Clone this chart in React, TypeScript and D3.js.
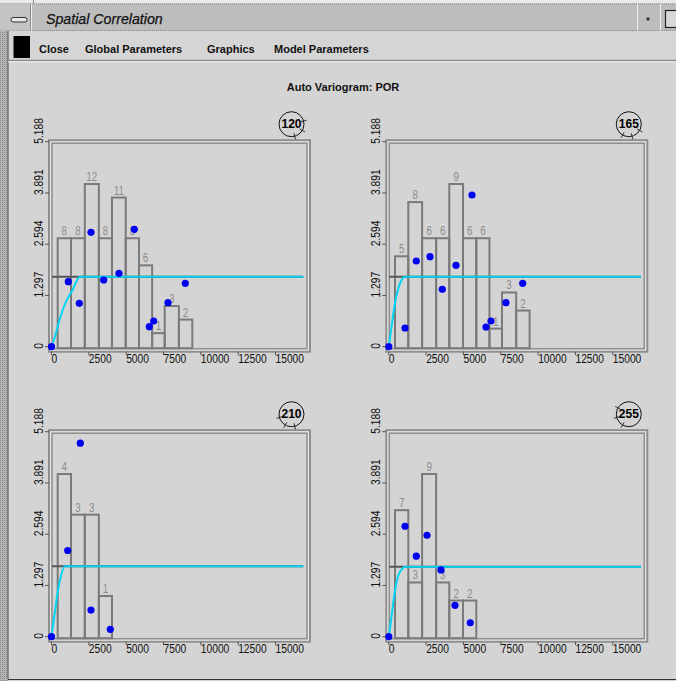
import * as d3 from "d3";
import { useRef, useEffect } from "react";

// lag class boundaries (same for every direction)
const binEdges = [415, 1306, 2230, 3170, 4050, 4970, 5860, 6740, 7580, 8530, 9430];

// pair counts per lag class
const counts120 = [8, 8, 12, 8, 11, 8, 6, 1, 3, 2];
const counts165 = [5, 8, 6, 6, 9, 6, 6, 1, 3, 2];
const counts210 = [4, 3, 3, 1];
const counts255 = [7, 3, 9, 3, 2, 2];

// experimental semivariogram points
const lag120 = [0, 1125, 1862, 2645, 3495, 4520, 5544, 6549, 6843, 7801, 8959];
const gamma120 = [0, 1.645, 1.098, 2.895, 1.688, 1.857, 2.971, 0.506, 0.65, 1.114, 1.604];
const lag165 = [0, 1085, 1841, 2759, 3582, 4500, 5571, 6509, 6843, 7848, 8966];
const gamma165 = [0, 0.473, 2.169, 2.278, 1.453, 2.06, 3.839, 0.499, 0.65, 1.114, 1.604];
const lag210 = [0, 1085, 1928, 2645, 3937];
const gamma210 = [0, 2.181, 4.898, 0.674, 0.187];
const lag255 = [0, 1085, 1841, 2558, 3495, 4433, 5457];
const gamma255 = [0, 2.795, 2.037, 2.567, 1.691, 0.793, 0.353];

// fitted model
const modelLag120 = [0, 230, 570, 1020, 1350, 1910, 16860];
const modelGamma120 = [0, 0.25, 0.72, 1.18, 1.39, 1.77, 1.77];
const modelLag165 = [0, 200, 415, 750, 1085, 16890];
const modelGamma165 = [0, 0.55, 1.1, 1.6, 1.77, 1.77];
const modelLag210 = [0, 200, 455, 680, 900, 16860];
const modelGamma210 = [0, 0.55, 1.22, 1.6, 1.78, 1.78];
const modelLag255 = [0, 180, 370, 640, 1130, 16890];
const modelGamma255 = [0, 0.5, 1.05, 1.56, 1.77, 1.77];

const yTicks = [0, 1.297, 2.594, 3.891, 5.188];
const xTicks = [0, 2500, 5000, 7500, 10000, 12500, 15000];
const menuItems = ["Close", "Global Parameters", "Graphics", "Model Parameters"];
const menuX = [39, 85, 207, 274];

const directions = [120, 165, 210, 255];
const panelCounts = [counts120, counts165, counts210, counts255];
const panelLags = [lag120, lag165, lag210, lag255];
const panelGammas = [gamma120, gamma165, gamma210, gamma255];
const panelModelLags = [modelLag120, modelLag165, modelLag210, modelLag255];
const panelModelGammas = [modelGamma120, modelGamma165, modelGamma210, modelGamma255];

const barTop = 4.117;
const sans = "'Liberation Sans', Arial, Helvetica, sans-serif";
// no narrow face installed, so squeeze the regular one
const squeeze = 0.82;

function Variograms() {
  const ref = useRef(null);
  const width = 676;
  const height = 681;

  useEffect(() => {
    const svg = d3.select(ref.current);
    svg.select("g.panels").remove();
    const root = svg.append("g").attr("class", "panels");

    directions.forEach((dir, i) => {
      const px0 = i % 2 === 0 ? 51.5 : 388.8;
      const y0 = i < 2 ? 346.7 : 636.7;
      const x = d3.scaleLinear().domain([0, 15000]).range([px0, px0 + 224]);
      const y = d3.scaleLinear().domain([0, 5.188]).range([y0, y0 - 205]);
      const g = root.append("g");

      // frame (grooved double border)
      g.append("rect")
        .attr("x", px0 - 2.5).attr("y", y0 - 206.5)
        .attr("width", 261).attr("height", 211.5)
        .attr("fill", "none").attr("stroke", "#8e8e8e").attr("stroke-width", 2);
      g.append("rect")
        .attr("x", px0 - 0.8).attr("y", y0 - 204.8)
        .attr("width", 257.6).attr("height", 208.1)
        .attr("fill", "none").attr("stroke", "#ececec").attr("stroke-width", 1);
      g.append("rect")
        .attr("x", px0 + 0.5).attr("y", y0 - 203.5)
        .attr("width", 255).attr("height", 205.5)
        .attr("fill", "none").attr("stroke", "#8e8e8e").attr("stroke-width", 1.5);

      // y ticks and rotated labels
      g.selectAll(".ytick").data(yTicks).join("line")
        .attr("x1", px0 - 6.5).attr("x2", px0 - 2.5)
        .attr("y1", (d) => y(d)).attr("y2", (d) => y(d))
        .attr("stroke", "#555").attr("stroke-width", 1);
      g.selectAll(".ylab").data(yTicks).join("text")
        .attr("transform", (d) => `translate(${px0 - 8.5},${y(d) + 2}) rotate(-90) scale(${squeeze},1)`)
        .attr("font-family", sans).attr("font-size", 12.5).attr("fill", "#111")
        .text((d) => (d === 0 ? "0" : d.toFixed(3)));

      // x ticks and labels
      g.selectAll(".xtick").data(xTicks).join("line")
        .attr("x1", (d) => x(d)).attr("x2", (d) => x(d))
        .attr("y1", y0 + 5).attr("y2", y0 + 8.5)
        .attr("stroke", "#555").attr("stroke-width", 1);
      g.selectAll(".xlab").data(xTicks).join("text")
        .attr("transform", (d) => `translate(${x(d)},${y0 + 16.6}) scale(${squeeze},1)`)
        .attr("font-family", sans).attr("font-size", 12.5).attr("fill", "#111")
        .text((d) => d);

      // histogram of pair counts
      const counts = panelCounts[i];
      const maxCount = d3.max(counts);
      const h = d3.scaleLinear().domain([0, maxCount]).range([0, barTop]);
      g.selectAll(".bar").data(counts).join("rect")
        .attr("x", (d, k) => x(binEdges[k]))
        .attr("y", (d) => y(h(d)))
        .attr("width", (d, k) => x(binEdges[k + 1]) - x(binEdges[k]))
        .attr("height", (d) => y(0) + 1.5 - y(h(d)))
        .attr("fill", "none").attr("stroke", "#7a7a7a").attr("stroke-width", 2);
      g.selectAll(".cnt").data(counts).join("text")
        .attr("transform", (d, k) =>
          `translate(${(x(binEdges[k]) + x(binEdges[k + 1])) / 2},${y(h(d)) - 3}) scale(${squeeze},1)`)
        .attr("text-anchor", "middle")
        .attr("font-family", sans).attr("font-size", 12).attr("fill", "#8c8c8c")
        .text((d) => d);

      // model and sill
      const mLag = panelModelLags[i];
      const mGam = panelModelGammas[i];
      const sill = mGam[mGam.length - 1];
      g.append("line")
        .attr("x1", px0 + 0.5).attr("x2", x(mLag[mLag.length - 1]))
        .attr("y1", y(sill)).attr("y2", y(sill))
        .attr("stroke", "#555").attr("stroke-width", 2);
      const line = d3.line().x((d) => x(d[0])).y((d) => y(d[1])).curve(d3.curveMonotoneX);
      g.append("path")
        .attr("d", line(mLag.map((l, k) => [l, mGam[k]])))
        .attr("fill", "none").attr("stroke", "#00d4f4").attr("stroke-width", 2);

      // experimental points
      const lags = panelLags[i];
      const gams = panelGammas[i];
      g.selectAll(".pt").data(lags).join("circle")
        .attr("cx", (d) => x(d)).attr("cy", (d, k) => y(gams[k]))
        .attr("r", 3.6).attr("fill", "#0000f0");

      // direction badge
      const cx = px0 + 240;
      const cy = y0 - 222.5;
      const r = 12.5;
      g.append("circle").attr("cx", cx).attr("cy", cy).attr("r", r)
        .attr("fill", "none").attr("stroke", "#111").attr("stroke-width", 1);
      [dir - 45, dir, dir + 45].forEach((az) => {
        const a = (az * Math.PI) / 180;
        g.append("line")
          .attr("x1", cx + 0.75 * r * Math.sin(a)).attr("y1", cy - 0.75 * r * Math.cos(a))
          .attr("x2", cx + 1.25 * r * Math.sin(a)).attr("y2", cy - 1.25 * r * Math.cos(a))
          .attr("stroke", "#222").attr("stroke-width", 0.9);
      });
      g.append("text").attr("x", cx).attr("y", cy + 4.2)
        .attr("text-anchor", "middle")
        .attr("font-family", sans).attr("font-weight", "bold").attr("font-size", 12)
        .attr("fill", "#000").text(dir);
    });
  }, []);

  return (
    <svg
      ref={ref}
      width={width}
      height={height}
      viewBox={`0 0 ${width} ${height}`}
      style={{ position: "absolute", left: 0, top: 0, display: "block" }}
    >
      <defs>
        <pattern id="stipple" width="2" height="2" patternUnits="userSpaceOnUse">
          <rect width="2" height="2" fill="#b4b4b4" />
          <rect width="1" height="1" fill="#8e8e8e" />
        </pattern>
      </defs>
      <rect width={width} height={height} fill="#d4d4d4" />

      {/* title bar */}
      <rect x={0} y={0} width={width} height={3.5} fill="#e9e9e9" />
      <line x1={33.5} x2={33.5} y1={0} y2={3.5} stroke="#888" />
      <rect x={0} y={3.5} width={width} height={27.5} fill="#bdbdbd" />
      <line x1={0} x2={width} y1={4} y2={4} stroke="#8a8a8a" strokeDasharray="1 1" />
      <line x1={0} x2={width} y1={30.5} y2={30.5} stroke="#8a8a8a" strokeDasharray="1 1" />
      <rect x={0} y={4} width={30} height={26.5} fill="#c4c4c4" />
      <line x1={30.5} x2={30.5} y1={4} y2={30.5} stroke="#8a8a8a" />
      <line x1={31.5} x2={31.5} y1={4} y2={30.5} stroke="#efefef" />
      <rect x={11} y={17.5} width={16} height={4.5} rx={2} fill="#e8e8e8" stroke="#333" strokeWidth={1} />
      <text x={46} y={24} fontFamily={sans} fontStyle="italic" fontSize={14.2} fill="#111"
        stroke="#111" strokeWidth={0.25}>
        Spatial Correlation
      </text>
      <line x1={637.5} x2={637.5} y1={4} y2={30.5} stroke="#efefef" />
      <line x1={660.5} x2={660.5} y1={4} y2={30.5} stroke="#efefef" />
      <rect x={646.5} y={17.5} width={3} height={3} fill="#222" stroke="#999" strokeWidth={0.6} />
      <rect x={665.5} y={10.5} width={14} height={17} fill="#d8d8d8" stroke="#222" strokeWidth={1.2} />

      {/* menu bar */}
      <rect x={0} y={31} width={width} height={29} fill="#d5d5d5" />
      <rect x={0} y={31} width={8} height={height - 31} fill="url(#stipple)" />
      <line x1={8} x2={8} y1={31} y2={679} stroke="#4a4a4a" strokeWidth={1} />
      <rect x={13.5} y={36} width={16.5} height={22} fill="#000" />
      {menuItems.map((m, k) => (
        <text key={m} x={menuX[k]} y={52.5} fontFamily={sans} fontWeight="bold" fontSize={11} fill="#111">
          {m}
        </text>
      ))}
      <line x1={8} x2={width} y1={60.5} y2={60.5} stroke="#8c8c8c" strokeWidth={1.5} />
      <line x1={8} x2={width} y1={61.8} y2={61.8} stroke="#eeeeee" strokeWidth={1} />

      <text x={343} y={91} textAnchor="middle" fontFamily={sans} fontWeight="bold" fontSize={11} fill="#111">
        Auto Variogram: POR
      </text>

      <line x1={8} x2={width} y1={679.5} y2={679.5} stroke="#333" strokeWidth={1.2} />
    </svg>
  );
}

export default function App() {
  return <Variograms />;
}
